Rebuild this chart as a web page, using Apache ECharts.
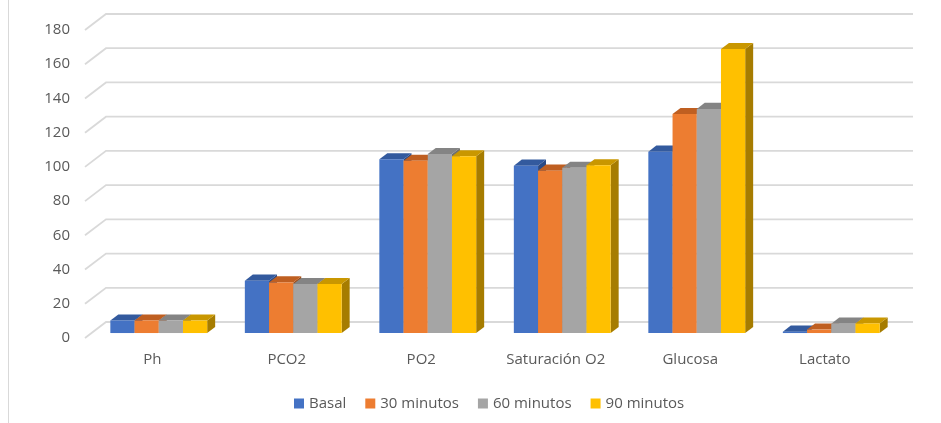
<!DOCTYPE html>
<html>
<head>
<meta charset="utf-8">
<script src="https://cdn.jsdelivr.net/npm/echarts@6/dist/echarts.min.js"></script>
<style>
  html, body { margin: 0; padding: 0; background: #ffffff; }
  #chart { width: 941px; height: 423px; }
</style>
</head>
<body>
<div id="chart"></div>
<script>
// Parameters measured per time point
const categories = ['Ph', 'PCO2', 'PO2', 'Saturación O2', 'Glucosa', 'Lactato'];
const seriesNames = ['Basal', '30 minutos', '60 minutos', '90 minutos'];
const basal     = [7.35, 30.6, 101.5, 97.8, 106, 0.8];
const min30     = [7.33, 29.6, 100.7, 94.9, 128, 2.0];
const min60     = [7.32, 28.6, 104.6, 96.6, 131, 5.5];
const min90     = [7.30, 28.6, 103.3, 98.0, 166, 5.6];
const yTicks    = [0, 20, 40, 60, 80, 100, 120, 140, 160, 180];

const seriesValues = [basal, min30, min60, min90];
const colors = ['#4472C4', '#ED7D31', '#A5A5A5', '#FFC000'];
const topColors = ['#335a9e', '#bf5f21', '#848484', '#c99700'];
const sideColors = ['#2a4a85', '#9e4e1a', '#6e6e6e', '#a67c00'];

// oblique projection: full floor depth, bar placement inside it
const DEPTH_X = 21, DEPTH_Y = -16;
const BAR_FRONT = 0.31, BAR_BACK = 0.69;
const BAR_RATIO = 0.18;
const GRID_COLOR = '#d9d9d9';
const TEXT_COLOR = '#595959';
const FONT = '"Open Sans", "Liberation Sans", sans-serif';

function wallRender(params, api) {
  const v = api.value(1);
  const band = api.size([1, 0])[0];
  const p0 = api.coord([0, v]);
  const p1 = api.coord([categories.length - 1, v]);
  const xl = p0[0] - band / 2;
  const xr = p1[0] + band / 2;
  const y = p0[1];
  return {
    type: 'polyline',
    shape: { points: [[xl, y], [xl + DEPTH_X, y + DEPTH_Y], [xr + DEPTH_X, y + DEPTH_Y]] },
    style: { stroke: GRID_COLOR, lineWidth: 1.8, fill: null },
    silent: true
  };
}

function barRender(si) {
  return function (params, api) {
    const cat = api.value(0);
    const v = api.value(1);
    const band = api.size([1, 0])[0];
    const bw = band * BAR_RATIO;
    const base = api.coord([cat, 0]);
    const topP = api.coord([cat, v]);
    const fx = DEPTH_X * BAR_FRONT, fy = DEPTH_Y * BAR_FRONT;
    const dx = DEPTH_X * (BAR_BACK - BAR_FRONT), dy = DEPTH_Y * (BAR_BACK - BAR_FRONT);
    const x0 = base[0] + fx + (si - seriesNames.length / 2) * bw;
    const x1 = x0 + bw;
    const yb = base[1] + fy;
    const yt = topP[1] + fy;
    return {
      type: 'group',
      children: [
        {
          type: 'polygon',
          shape: { points: [[x1, yt], [x1 + dx, yt + dy], [x1 + dx, yb + dy], [x1, yb]] },
          style: { fill: sideColors[si] }
        },
        {
          type: 'polygon',
          shape: { points: [[x0, yt], [x0 + dx, yt + dy], [x1 + dx, yt + dy], [x1, yt]] },
          style: { fill: topColors[si] }
        },
        {
          type: 'rect',
          shape: { x: x0, y: yt, width: bw, height: yb - yt },
          style: { fill: colors[si] }
        }
      ]
    };
  };
}

const series = [{
  name: 'wall',
  type: 'custom',
  renderItem: wallRender,
  data: yTicks.map(t => [0, t]),
  silent: true,
  z: 1
}];
seriesValues.forEach((vals, si) => {
  series.push({
    name: seriesNames[si],
    type: 'custom',
    renderItem: barRender(si),
    itemStyle: { color: colors[si] },
    data: vals.map((v, i) => [i, v]),
    z: 2 + si
  });
});

const chart = echarts.init(document.getElementById('chart'), null, { renderer: 'canvas' });
chart.setOption({
  animation: false,
  backgroundColor: '#ffffff',
  textStyle: { fontFamily: FONT },
  graphic: [{
    type: 'line',
    shape: { x1: 8.5, y1: 0, x2: 8.5, y2: 423 },
    style: { stroke: '#d9d9d9', lineWidth: 1 },
    silent: true
  }],
  grid: { left: 85, top: 30, width: 807, height: 308, containLabel: false },
  xAxis: {
    type: 'category',
    data: categories,
    axisLine: { show: false },
    axisTick: { show: false },
    axisLabel: { color: TEXT_COLOR, fontSize: 15, fontFamily: FONT, margin: 14 },
    splitLine: { show: false }
  },
  yAxis: {
    type: 'value',
    min: 0,
    max: 180,
    interval: 20,
    axisLine: { show: false },
    axisTick: { show: false },
    splitLine: { show: false },
    axisLabel: { color: TEXT_COLOR, fontSize: 15, fontFamily: FONT, margin: 15 }
  },
  legend: {
    data: seriesNames,
    bottom: 7,
    left: 289,
    icon: 'rect',
    itemWidth: 10,
    itemHeight: 10,
    itemGap: 19,
    textStyle: { color: TEXT_COLOR, fontSize: 15, fontFamily: FONT }
  },
  series: series
});
</script>
</body>
</html>
